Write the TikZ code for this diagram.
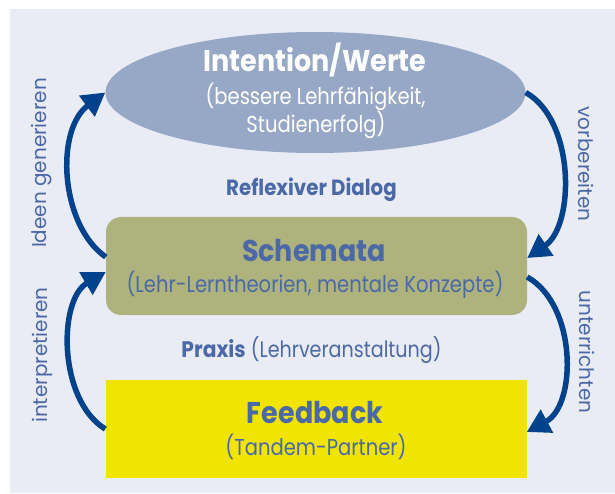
\documentclass[tikz,border=0pt]{standalone}
\usepackage{fontspec}
\usetikzlibrary{shapes.geometric,arrows.meta}
\newfontfamily\fB{Poppins}[FakeStretch=0.9]
\newfontfamily\fL{Poppins}[FakeStretch=0.85]
\newfontfamily\fR{Poppins}
\definecolor{bgc}{HTML}{E9ECF4}
\definecolor{ellc}{HTML}{97A8C7}
\definecolor{schc}{HTML}{AEB27C}
\definecolor{feedc}{HTML}{F0E400}
\definecolor{txtc}{HTML}{4C69A7}
\definecolor{arrc}{HTML}{00428B}
\tikzset{
  title/.style={anchor=base, inner sep=0, font=\fB\bfseries\fontsize{30}{30}\selectfont},
  sub/.style={anchor=base, inner sep=0, font=\fL\fontsize{23}{23}\selectfont},
  mid/.style={anchor=base, inner sep=0, text=txtc, font=\fL\fontsize{22.5}{22.5}\selectfont},
  side/.style={anchor=base, inner sep=0, text=txtc, font=\fR\fontsize{20}{20}\selectfont},
  arr/.style={draw=arrc, line width=5.5pt, -{Triangle[length=23pt,width=25pt]}},
  box/.style={draw=none, inner sep=0, minimum width=421pt, minimum height=98pt}
}
\begin{document}
\begin{tikzpicture}[x=1pt,y=-1pt]
\useasboundingbox (0,0) rectangle (615,494);
\fill[bgc] (10,9) rectangle (615,493);
% shapes
\node[ellipse, fill=ellc, inner sep=0, minimum width=420pt, minimum height=121pt] (intent) at (315.5,92.5) {};
\node[box, fill=schc, rounded corners=15pt] (schem) at (316.5,266) {};
\node[box, fill=feedc, sharp corners] (feed) at (316,429) {};
% texts
\node[title, text=white] (t1) at (315,72) {Intention/Werte};
\node[sub, text=white] (t2) at (315.5,105) {(bessere Lehrfähigkeit,};
\node[sub, text=white] (t3) at (316,133) {Studienerfolg)};
\node[mid, font=\fB\bfseries\fontsize{22}{22}\selectfont] (t4) at (311.5,196) {Reflexiver Dialog};
\node[title, text=txtc] (t5) at (314,261) {Schemata};
\node[sub, text=txtc] (t6) at (315,292) {(Lehr-Lerntheorien, mentale Konzepte)};
\node[mid] (t7) at (311.5,357) {{\fB\bfseries Praxis} (Lehrveranstaltung)};
\node[title, text=txtc] (t8) at (315,423) {Feedback};
\node[sub, text=txtc] (t9) at (316,455) {(Tandem-Partner)};
% side labels
\node[side, rotate=90] (l1) at (46,163) {Ideen generieren};
\node[side, rotate=90] (l2) at (47,355) {interpretieren};
\node[side, rotate=-90] (l3) at (578,164) {vorbereiten};
\node[side, rotate=-90] (l4) at (579,352) {unterrichten};
% arrows
\draw[arr] ([yshift=9pt]schem.west) .. controls (60,225) and (55,130) .. (intent.west);
\draw[arr] (intent.east) .. controls (575,120) and (575,225) .. ([yshift=8pt]schem.east);
\draw[arr] (feed.west) .. controls (58,400) and (58,300) .. ([yshift=-6pt]schem.west);
\draw[arr] ([yshift=-11pt]schem.east) .. controls (577,305) and (577,405) .. ([yshift=-3pt]feed.east);
\end{tikzpicture}
\end{document}
